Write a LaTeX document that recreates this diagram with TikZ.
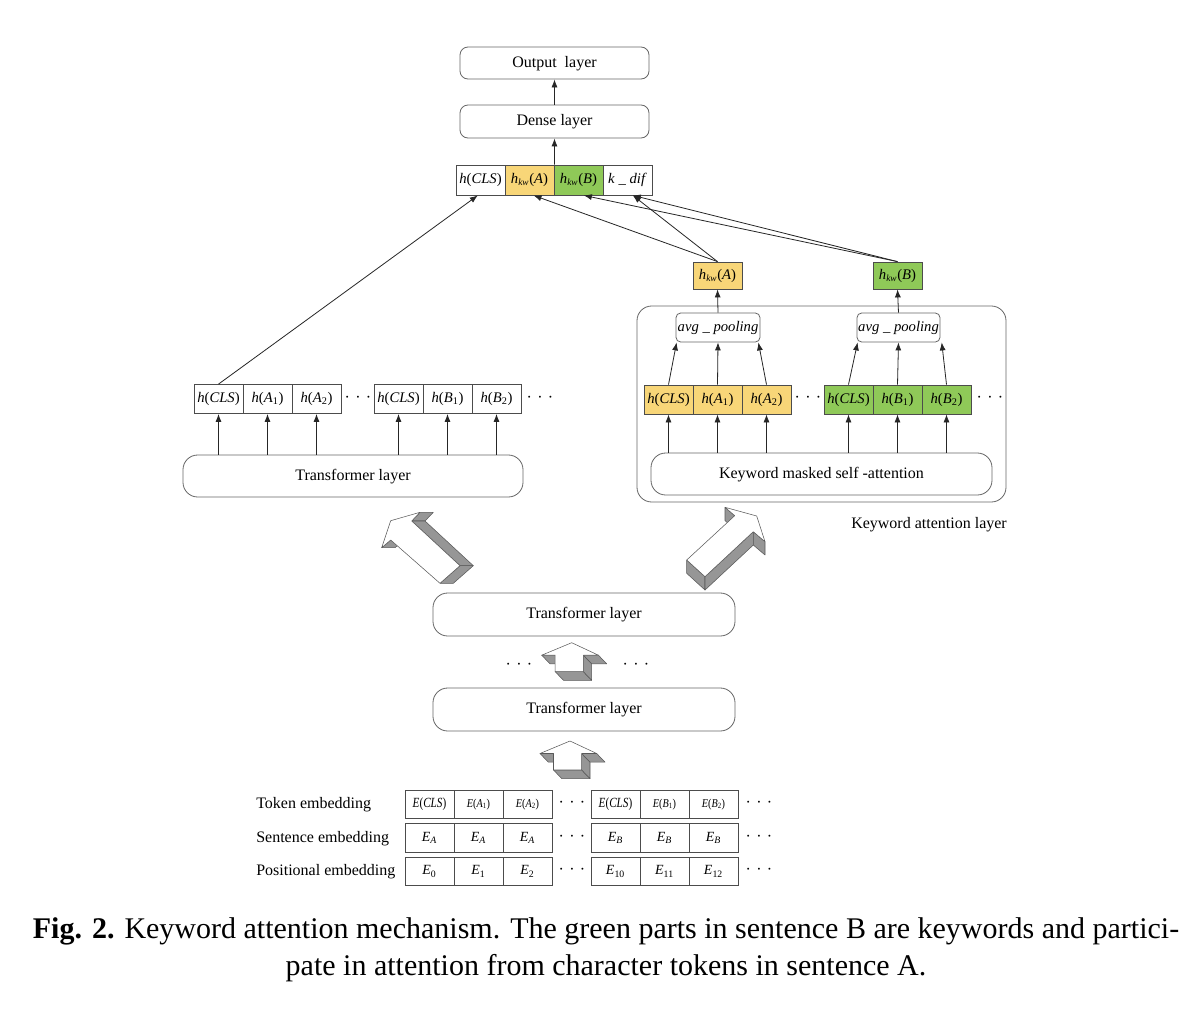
\documentclass[tikz,border=0pt]{standalone}
\usepackage{graphicx}
\usepackage{fontspec}
\setmainfont{Liberation Serif}
\usetikzlibrary{arrows.meta,calc}
\definecolor{ylw}{RGB}{248,214,120}
\definecolor{grn}{RGB}{143,201,88}
\definecolor{shade}{RGB}{150,150,150}
\newcommand\myh{\textit{h}}
\newcommand\myhkw[1]{\textit{h}\textsubscript{\textit{\scriptsize kw}}(\textit{#1})}
\newcommand\myhs[2]{\textit{h}(\textit{#1}\textsubscript{#2})}
\newcommand\mycls{\textit{h}(\textit{CLS})}
\newcommand\mydots{\textperiodcentered\hspace{4pt}\textperiodcentered\hspace{4pt}\textperiodcentered}
\newcommand\myE[1]{\textit{E}\textsubscript{\textit{#1}}}
\newcommand\myEt[1]{\scalebox{0.8}[1]{\textit{E}(\textit{#1})}}
\begin{document}
\begin{tikzpicture}[x=0.75pt,y=-0.75pt,
  lay/.style={draw=black!60, rounded corners=10pt, line width=0.6pt, font=\fontsize{12}{14}\selectfont, inner sep=0pt, text height=1.6ex, text depth=0.2ex},
  cell/.style={draw=black!70, line width=0.6pt, minimum width=36.75pt, minimum height=21.75pt, inner sep=0pt, font=\fontsize{11}{13}\selectfont},
  ecell/.style={draw=black!70, line width=0.6pt, minimum width=36.75pt, minimum height=21.4pt, inner sep=0pt, font=\fontsize{10.5}{12}\selectfont},
  lbl/.style={font=\fontsize{12}{14}\selectfont, inner sep=0pt, text height=1.6ex, text depth=0.2ex},
  dotn/.style={font=\fontsize{12}{14}\selectfont, inner sep=0pt},
  arr/.style={-{Latex[length=6pt,width=4.5pt]}, line width=0.6pt, draw=black!85},
  face/.style={fill=shade, draw=black!65, line width=0.4pt, line join=round},
  topf/.style={fill=white, draw=black!65, line width=0.4pt, line join=round},
  uparr/.pic={
    \path[face] (-30,12.5) -- (-16.5,12.5) -- (-8.2,21.1) -- (-21.7,21.1) -- cycle;
    \path[face] (-16.5,29) -- (11.7,29) -- (20,37.6) -- (-8.2,37.6) -- cycle;
    \path[face] (11.7,12.5) -- (11.7,29) -- (20,37.6) -- (20,21.1) -- cycle;
    \path[face] (11.7,12.5) -- (26.7,12.5) -- (35,21.1) -- (20,21.1) -- cycle;
    \path[topf] (0,0) -- (26.7,12.5) -- (11.7,12.5) -- (11.7,29) -- (-16.5,29) -- (-16.5,12.5) -- (-30,12.5) -- cycle;
  }
]
\useasboundingbox[fill=white] (0,0) rectangle (1200,1014);

% ---------- top ----------
\node[lay, rounded corners=6pt, minimum width=141.75pt, minimum height=24pt] (out) at (554.5,63) {Output\ \ layer};
\node[lay, rounded corners=6pt, minimum width=141.75pt, minimum height=24.75pt] (dense) at (554.5,121.5) {Dense layer};
\node[cell, minimum height=22.5pt] (t1) at (480.5,180) {\mycls};
\node[cell, minimum height=22.5pt, fill=ylw] (t2) at (529.5,180) {\myhkw{A}};
\node[cell, minimum height=22.5pt, fill=grn] (t3) at (578.5,180) {\myhkw{B}};
\node[cell, minimum height=22.5pt] (t4) at (627.5,180) {\textit{k} \_ \textit{dif}};
\draw[arr] (dense.north) -- (out.south);
\draw[arr] (t2.north east) -- (dense.south);

% ---------- keyword attention ----------
\node[draw=black!60, line width=0.6pt, rounded corners=11pt, minimum width=276.75pt, minimum height=147pt] (kal) at (821.5,404) {};
\node[lbl, anchor=west] (kallbl) at (851,524) {Keyword attention layer};
\node[cell, minimum height=20.25pt, fill=ylw] (ka) at (717.5,275.5) {\myhkw{A}};
\node[cell, minimum height=20.25pt, fill=grn] (kb) at (897.5,275.5) {\myhkw{B}};
\node[lay, rounded corners=3.5pt, minimum width=63pt, minimum height=21.75pt, font=\fontsize{11}{13}\selectfont] (ap1) at (718,327.5) {\textit{avg} \_ \textit{pooling}};
\node[lay, rounded corners=3.5pt, minimum width=62.25pt, minimum height=21.75pt, font=\fontsize{11}{13}\selectfont] (ap2) at (898.5,327.5) {\textit{avg} \_ \textit{pooling}};
\node[cell, fill=ylw] (rc1) at (668.5,399.5) {\mycls};
\node[cell, fill=ylw] (rc2) at (717.5,399.5) {\myhs{A}{1}};
\node[cell, fill=ylw] (rc3) at (766.5,399.5) {\myhs{A}{2}};
\node[dotn] (rd1) at (808,399.5) {\mydots};
\node[cell, fill=grn] (gc1) at (848.5,399.5) {\mycls};
\node[cell, fill=grn] (gc2) at (897.5,399.5) {\myhs{B}{1}};
\node[cell, fill=grn] (gc3) at (946.5,399.5) {\myhs{B}{2}};
\node[dotn] (rd2) at (990,399.5) {\mydots};
\node[lay, rounded corners=11pt, minimum width=255.75pt, minimum height=31.5pt] (kmsa) at (821.5,474) {Keyword masked self -attention};

\draw[arr] (ap1.north) -- (ka.south);
\draw[arr] (ap2.north) -- (kb.south);
\draw[arr] (rc1.north) -- ([xshift=0.75pt]ap1.south west);
\draw[arr] (rc2.north) -- (ap1.south);
\draw[arr] (rc3.north) -- ([xshift=-1.5pt]ap1.south east);
\draw[arr] (gc1.north) -- ([xshift=0.75pt]ap2.south west);
\draw[arr] (gc2.north) -- (ap2.south);
\draw[arr] (gc3.north) -- ([xshift=1pt]ap2.south east);
\foreach \c in {rc1,rc2,rc3,gc1,gc2,gc3}{
  \draw[arr] (\c.south |- kmsa.north) -- (\c.south);
}
\draw[arr] (ka.north) -- ([xshift=3pt]t2.south);
\draw[arr] (ka.north) -- ([xshift=4pt]t4.south);
\draw[arr] (kb.north) -- ([xshift=4pt]t3.south);
\draw[arr] (kb.north) -- ([xshift=4pt]t4.south);

% ---------- left branch ----------
\node[cell] (lc1) at (218.5,399) {\mycls};
\node[cell] (lc2) at (267.5,399) {\myhs{A}{1}};
\node[cell] (lc3) at (316.5,399) {\myhs{A}{2}};
\node[dotn] (ld1) at (358,399) {\mydots};
\node[cell] (lc4) at (398.5,399) {\mycls};
\node[cell] (lc5) at (447.5,399) {\myhs{B}{1}};
\node[cell] (lc6) at (496.5,399) {\myhs{B}{2}};
\node[dotn] (ld2) at (540,399) {\mydots};
\node[lay, rounded corners=11pt, minimum width=255pt, minimum height=31.5pt] (tl) at (353,476) {Transformer layer};
\foreach \c in {lc1,lc2,lc3,lc4,lc5,lc6}{
  \draw[arr] (\c.south |- tl.north) -- (\c.south);
}
\draw[arr] (lc1.north) -- ([xshift=-2pt]t1.south);

% ---------- 3D arrows ----------
% left (up-left)
\path[face] (420,512.3) -- (411.7,521) -- (425,521) -- (433.3,512.3) -- cycle;
\path[face] (411.7,521) -- (460,565.7) -- (473.3,565.7) -- (425,521) -- cycle;
\path[face] (460,565.7) -- (440,583.3) -- (453.3,583.3) -- (473.3,565.7) -- cycle;
\path[face] (381.7,547.7) -- (390.7,540) -- (404,540) -- (395,547.7) -- cycle;
\path[topf] (440,583.3) -- (390.7,540) -- (381.7,547.7) -- (390.7,520.7) -- (420,512.3) -- (411.7,521) -- (460,565.7) -- cycle;
% right (up-right)
\path[face] (725,507.3) -- (734.7,515.7) -- (734.7,529) -- (725,520.6) -- cycle;
\path[face] (686.7,560) -- (705,576.7) -- (705,590) -- (686.7,573.3) -- cycle;
\path[face] (705,576.7) -- (753.3,531.7) -- (753.3,545) -- (705,590) -- cycle;
\path[face] (753.3,531.7) -- (765,541.7) -- (765,555) -- (753.3,545) -- cycle;
\path[topf] (686.7,560) -- (734.7,515.7) -- (725,507.3) -- (756.7,516) -- (765,541.7) -- (753.3,531.7) -- (705,576.7) -- cycle;

% ---------- middle transformer stack ----------
\node[lay, rounded corners=11pt, minimum width=226.5pt, minimum height=32.25pt] (tm1) at (584,614.5) {Transformer layer};
\node[lay, rounded corners=11pt, minimum width=226.5pt, minimum height=32.25pt] (tm2) at (584,709.5) {Transformer layer};
\node[dotn] (md1) at (519,666) {\mydots};
\node[dotn] (md2) at (636,666) {\mydots};
\pic at (571.7,642.7) {uparr};
\pic at (570,741) {uparr};

% ---------- embeddings ----------
\node[lbl, anchor=west] (le1) at (256,804.5) {Token embedding};
\node[lbl, anchor=west] (le2) at (256,838) {Sentence embedding};
\node[lbl, anchor=west] (le3) at (256,871.5) {Positional embedding};
\node[ecell] (e11) at (429.5,804.5) {\myEt{CLS}};
\node[ecell] (e12) at (478.5,804.5) {\scalebox{0.85}[1]{\fontsize{9}{10}\selectfont\textit{E}(\textit{A}\textsubscript{1})}};
\node[ecell] (e13) at (527.5,804.5) {\scalebox{0.85}[1]{\fontsize{9}{10}\selectfont\textit{E}(\textit{A}\textsubscript{2})}};
\node[ecell] (e14) at (615.5,804.5) {\myEt{CLS}};
\node[ecell] (e15) at (664.5,804.5) {\scalebox{0.85}[1]{\fontsize{9}{10}\selectfont\textit{E}(\textit{B}\textsubscript{1})}};
\node[ecell] (e16) at (713.5,804.5) {\scalebox{0.85}[1]{\fontsize{9}{10}\selectfont\textit{E}(\textit{B}\textsubscript{2})}};
\node[ecell] (e21) at (429.5,838) {\myE{A}};
\node[ecell] (e22) at (478.5,838) {\myE{A}};
\node[ecell] (e23) at (527.5,838) {\myE{A}};
\node[ecell] (e24) at (615.5,838) {\myE{B}};
\node[ecell] (e25) at (664.5,838) {\myE{B}};
\node[ecell] (e26) at (713.5,838) {\myE{B}};
\node[ecell] (e31) at (429.5,871.5) {\textit{E}\textsubscript{0}};
\node[ecell] (e32) at (478.5,871.5) {\textit{E}\textsubscript{1}};
\node[ecell] (e33) at (527.5,871.5) {\textit{E}\textsubscript{2}};
\node[ecell] (e34) at (615.5,871.5) {\textit{E}\textsubscript{10}};
\node[ecell] (e35) at (664.5,871.5) {\textit{E}\textsubscript{11}};
\node[ecell] (e36) at (713.5,871.5) {\textit{E}\textsubscript{12}};
\foreach \r/\y in {1/804.5,2/838,3/871.5}{
  \node[dotn] (ed\r a) at (572,\y) {\mydots};
  \node[dotn] (ed\r b) at (759,\y) {\mydots};
}

% ---------- caption ----------
\node[align=center, font=\fontsize{22.5}{27.75}\selectfont, inner sep=0pt] (cap) at (606,950) {\textbf{Fig. 2.} Keyword attention mechanism. The green parts in sentence B are keywords and partici-\\pate in attention from character tokens in sentence A.};
\end{tikzpicture}
\end{document}
